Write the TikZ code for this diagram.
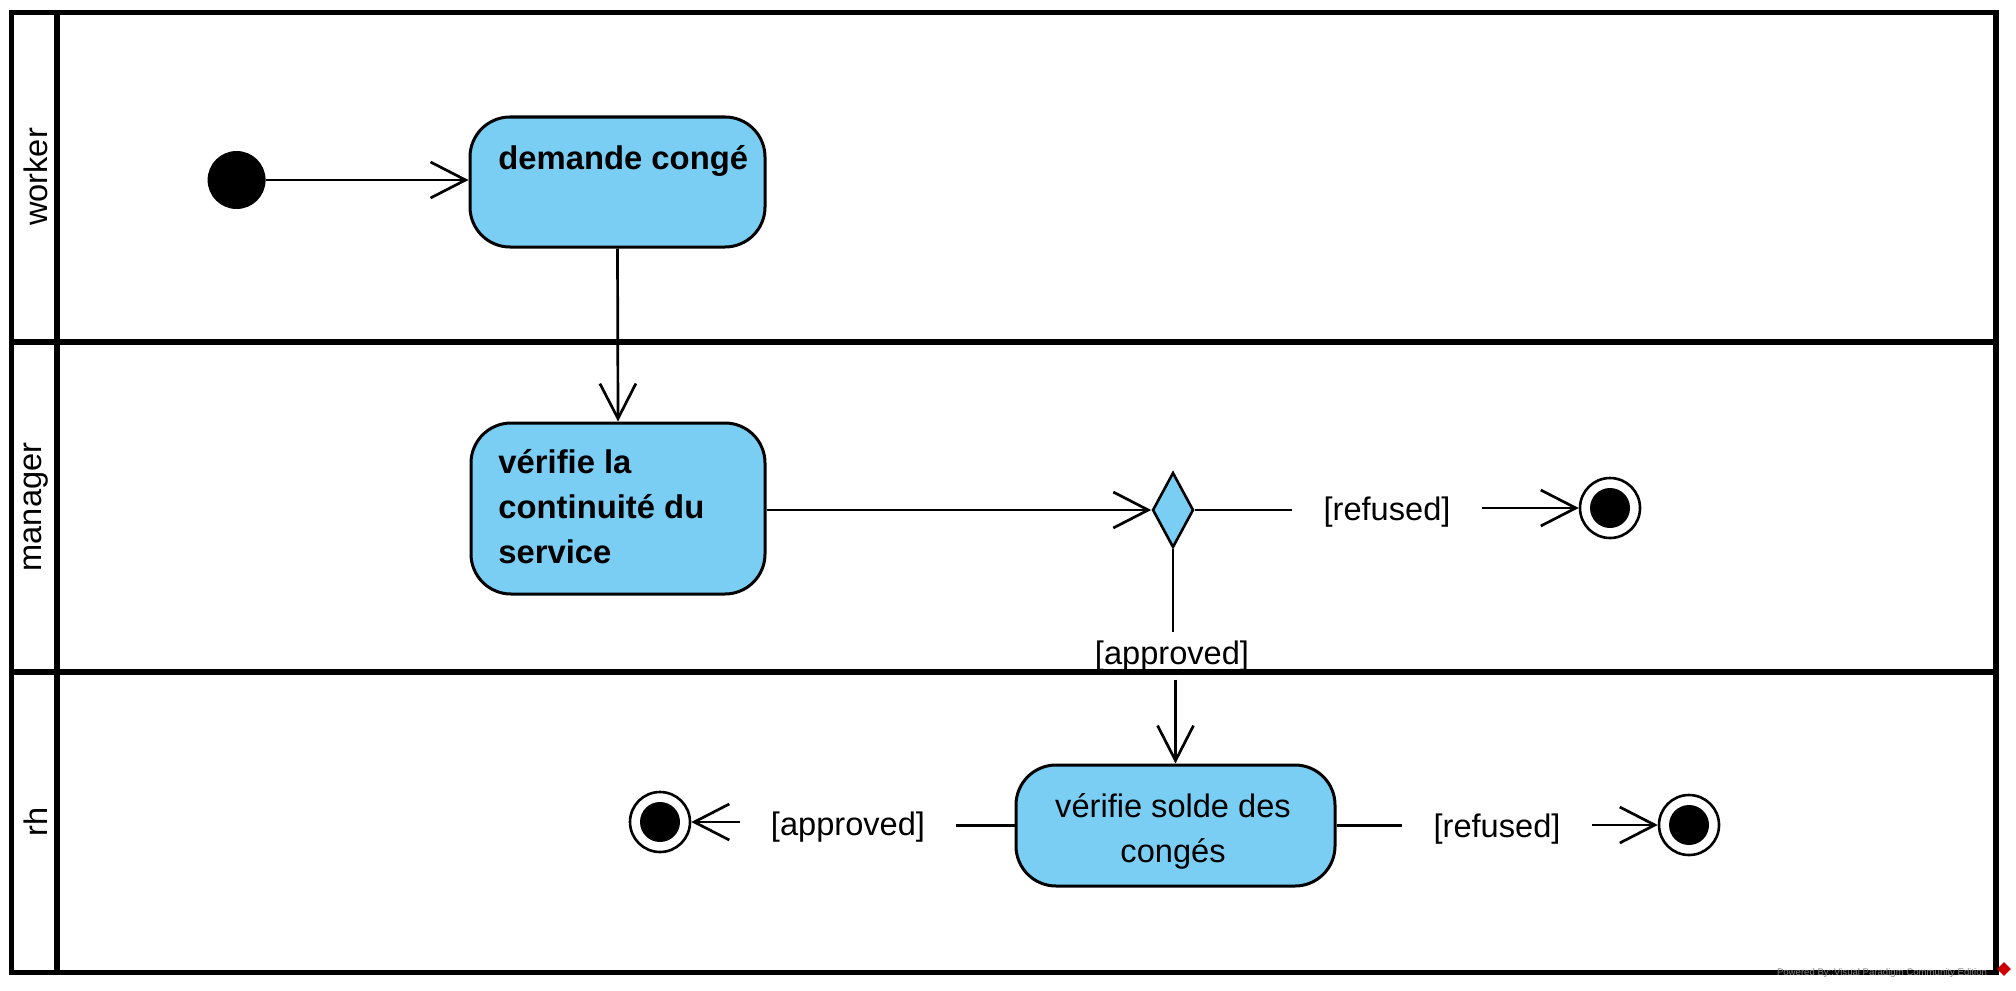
\documentclass[tikz,border=0pt]{standalone}
\usepackage{fontspec}
\setmainfont{Liberation Sans}
\usetikzlibrary{arrows.meta,shapes.geometric}
\definecolor{actblue}{HTML}{7ACEF4}
\begin{document}
\begin{tikzpicture}[x=0.5pt,y=-0.5pt,
  txt/.style={font=\fontsize{16.3}{22.5}\selectfont},
  btxt/.style={font=\fontsize{16.4}{22.5}\selectfont\bfseries},
  lane/.style={line width=2.6pt},
  act/.style={draw, line width=1.5pt, fill=actblue, rounded corners=20pt, inner sep=0pt},
  flow/.style={line width=1.35pt},
  arr/.style={flow, -{Straight Barb[length=17.5pt,width=18pt]}},
  guard/.style={txt, inner xsep=15.5pt, inner ysep=4pt},
  startnode/.style={circle, fill=black, minimum size=29pt, inner sep=0pt},
  endnode/.style={circle, draw, fill=white, line width=1.3pt, minimum size=30pt, inner sep=0pt,
    path picture={\fill[black] (path picture bounding box.center) circle (10pt);}},
  lanelabel/.style={txt, rotate=90}
]
\useasboundingbox (0,0) rectangle (2016,990);
% swimlanes
\draw[lane] (11.6,12.9) rectangle (1996,972.5);
\draw[lane] (57,12.9) -- (57,972.5);
\draw[lane] (11.6,342) -- (1996,342);
\draw[lane] (11.6,672) -- (1996,672);
\node[lanelabel] (lworker) at (36,177) {worker};
\node[lanelabel] (lmanager) at (36,507) {manager};
\node[lanelabel] (lrh) at (36,822) {rh};

% nodes
\node[startnode] (init) at (236.6,180) {};
\node[act, minimum width=147.5pt, minimum height=65pt] (demande) at (617.5,182) {};
\node[btxt, anchor=west, inner sep=0pt] (demandeT) at (498,161) {demande congé};

\node[act, minimum width=147pt, minimum height=85.5pt] (verif) at (618,508.5) {};
\node[btxt, anchor=west, align=left, inner sep=0pt] (verifT) at (498,507) {vérifie la\\continuité du\\service};

\node[diamond, draw, fill=actblue, line width=1.3pt, minimum width=20.5pt, minimum height=37.5pt, inner sep=0pt] (dec) at (1173,510) {};

\node[guard] (ref1) at (1387,512) {[refused]};
\node[endnode] (fin1) at (1610,508) {};

\node[txt, inner xsep=2pt, inner ysep=4pt] (app1) at (1172,656) {[approved]};

\node[act, minimum width=159.5pt, minimum height=60.5pt] (solde) at (1175.5,825.5) {};
\node[txt, align=center, inner sep=0pt] (soldeT) at (1173,831) {vérifie solde des\\congés};

\node[guard] (app2) at (848,827) {[approved]};
\node[endnode] (fin2) at (660,822) {};
\node[guard] (ref2) at (1497,829) {[refused]};
\node[endnode] (fin3) at (1689,825) {};

% connectors
\draw[arr] (init.east) -- (init.east -| demande.west);
\draw[arr] (demande.south) -- (verif.north);
\draw[arr] (verif.east |- dec.west) -- (dec.west);
\draw[flow] (dec.east) -- (dec.east -| ref1.west);
\draw[arr] (ref1.east |- fin1.west) -- (fin1.west);
\draw[flow] (dec.south) -- (dec.south |- app1.north);
\draw[arr] (app1.south -| solde.north) -- (solde.north);
\draw[flow] (solde.west) -- (solde.west -| app2.east);
\draw[arr] (app2.west |- fin2.east) -- (fin2.east);
\draw[flow] (solde.east) -- (solde.east -| ref2.west);
\draw[arr] (ref2.east |- fin3.west) -- (fin3.west);

% watermark
\node[font=\fontsize{4.8}{5}\selectfont, text=gray, inner sep=0pt] (wm) at (1882,973) {Powered By::Visual Paradigm Community Edition};
\node[diamond, fill=red!80!black, minimum size=7pt, inner sep=0pt] (logo) at (2004,969) {};
\end{tikzpicture}
\end{document}
